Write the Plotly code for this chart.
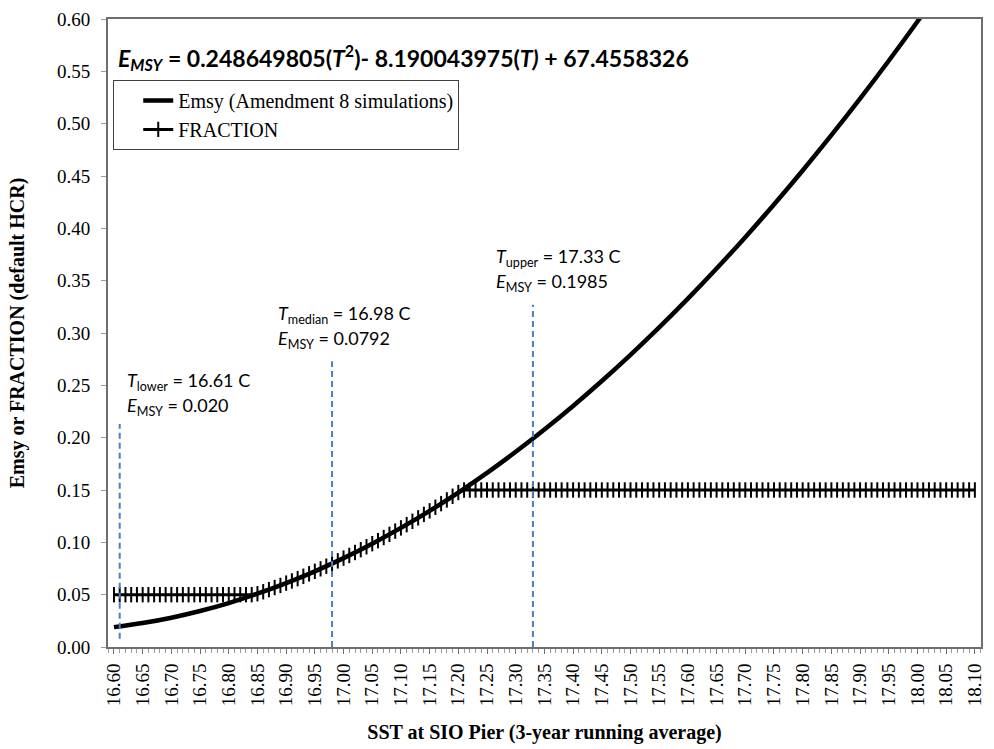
import plotly.graph_objects as go

# Sea-surface temperature grid (deg C) for the Emsy curve, every 0.05
sst_curve = [16.60, 16.65, 16.70, 16.75, 16.80, 16.85, 16.90, 16.95, 17.00, 17.05,
             17.10, 17.15, 17.20, 17.25, 17.30, 17.35, 17.40, 17.45, 17.50, 17.55,
             17.60, 17.65, 17.70, 17.75, 17.80, 17.85, 17.90, 17.95, 18.00, 18.05, 18.10]
emsy_curve = [0.0190, 0.0229, 0.0280, 0.0344, 0.0420, 0.0509, 0.0610, 0.0723, 0.0849, 0.0987,
              0.1138, 0.1301, 0.1476, 0.1664, 0.1865, 0.2078, 0.2303, 0.2541, 0.2791, 0.3053,
              0.3328, 0.3616, 0.3916, 0.4228, 0.4553, 0.4890, 0.5239, 0.5601, 0.5976, 0.6363, 0.6762]

# FRACTION (default HCR) every 0.01 from 16.60 to 18.10
sst_fraction = [round(16.60 + 0.01 * i, 2) for i in range(151)]
fraction_low = [0.05] * 25          # 16.60 - 16.84
fraction_mid = [0.0509, 0.0528, 0.0548, 0.0568, 0.0588, 0.0610, 0.0631, 0.0653, 0.0676, 0.0699,
                0.0723, 0.0747, 0.0772, 0.0797, 0.0823, 0.0849, 0.0875, 0.0903, 0.0930, 0.0958,
                0.0987, 0.1016, 0.1046, 0.1076, 0.1107, 0.1138, 0.1169, 0.1201, 0.1234, 0.1267,
                0.1301, 0.1335, 0.1370, 0.1405, 0.1440, 0.1476]   # 16.85 - 17.20
fraction_high = [0.15] * 90         # 17.21 - 18.10
fraction = fraction_low + fraction_mid + fraction_high

# Reference temperatures (lower / median / upper) and Emsy at each
ref_names = ["lower", "median", "upper"]
ref_temp = [16.61, 16.98, 17.33]
ref_emsy = ["0.020", "0.0792", "0.1985"]

# Dashed marker extents and label placement
ref_line_bottom = [0.008, 0.0, 0.0]
ref_line_top = [0.213, 0.273, 0.327]
label_x = [16.62, 16.882, 17.262]
label_y = [0.254, 0.318, 0.372]

serif = "Liberation Serif, Times New Roman, serif"
sans = "Lato, Carlito, Calibri, sans-serif"
axis_grey = "#6e6e6e"

fig = go.Figure()

fig.add_trace(go.Scatter(
    x=sst_curve, y=emsy_curve, mode="lines", name="Emsy (Amendment 8 simulations)",
    line=dict(color="black", width=4.5, shape="spline", smoothing=1.0),
))
fig.add_trace(go.Scatter(
    x=sst_fraction, y=fraction, mode="lines+markers", name="FRACTION",
    line=dict(color="black", width=3),
    marker=dict(symbol="line-ns", size=11, color="black", line=dict(width=2, color="black")),
    cliponaxis=False,
))

for t, y0, y1 in zip(ref_temp, ref_line_bottom, ref_line_top):
    fig.add_trace(go.Scatter(
        x=[t, t], y=[y0, y1], mode="lines", showlegend=False, hoverinfo="skip",
        line=dict(color="#4a7fc1", width=2, dash="6px,4px"),
    ))

for name, t, e, lx, ly in zip(ref_names, ref_temp, ref_emsy, label_x, label_y):
    fig.add_annotation(
        x=lx, y=ly, xref="x", yref="y", xanchor="left", yanchor="middle",
        text=f"<i>T</i><sub>{name}</sub> = {t:.2f} C", showarrow=False,
        font=dict(family=sans, size=18, color="black"),
    )
    fig.add_annotation(
        x=lx, y=ly - 0.024, xref="x", yref="y", xanchor="left", yanchor="middle",
        text=f"<i>E</i><sub>MSY</sub> = {e}", showarrow=False,
        font=dict(family=sans, size=18, color="black"),
    )

fig.add_annotation(
    x=0.009, y=0.938, xref="paper", yref="paper", xanchor="left", yanchor="middle",
    text="<b><i>E</i><sub><i>MSY</i></sub> = 0.248649805(<i>T</i><sup>2</sup>)- 8.190043975(<i>T)</i> + 67.4558326</b>",
    showarrow=False, font=dict(family=sans, size=23, color="black"),
)

fig.update_layout(
    width=994, height=749,
    margin=dict(l=108, r=9, t=12, b=99),
    paper_bgcolor="white", plot_bgcolor="white",
    showlegend=True,
    legend=dict(
        x=0.006, y=0.903, xanchor="left", yanchor="top",
        bgcolor="white", bordercolor="#404040", borderwidth=1,
        font=dict(family=serif, size=20, color="black"),
        tracegroupgap=0, itemwidth=30, indentation=24,
    ),
    xaxis=dict(
        range=[16.5896, 18.1107], tick0=16.60, dtick=0.05, tickformat=".2f",
        tickangle=-90, ticks="outside", ticklen=5, tickcolor=axis_grey,
        ticklabelstandoff=2,
        minor=dict(dtick=0.01, ticks="outside", ticklen=4, tickcolor="#9a9a9a"),
        showgrid=False, zeroline=False,
        showline=True, linecolor=axis_grey, linewidth=2, mirror=True,
        tickfont=dict(family=serif, size=19, color="black"),
        title=dict(text="<b>SST at SIO Pier (3-year running average)</b>",
                   font=dict(family=serif, size=20, color="black"), standoff=20),
    ),
    yaxis=dict(
        range=[0, 0.6], dtick=0.05, tickformat=".2f",
        ticks="outside", ticklen=5, tickcolor="#9a9a9a",
        ticklabelstandoff=7,
        showgrid=False, zeroline=False,
        showline=True, linecolor=axis_grey, linewidth=2, mirror=True,
        tickfont=dict(family=serif, size=19, color="black"),
        title=dict(text="<b>Emsy or FRACTION (default HCR)</b>",
                   font=dict(family=serif, size=20, color="black"), standoff=27),
    ),
)

fig.write_html("out.html")
